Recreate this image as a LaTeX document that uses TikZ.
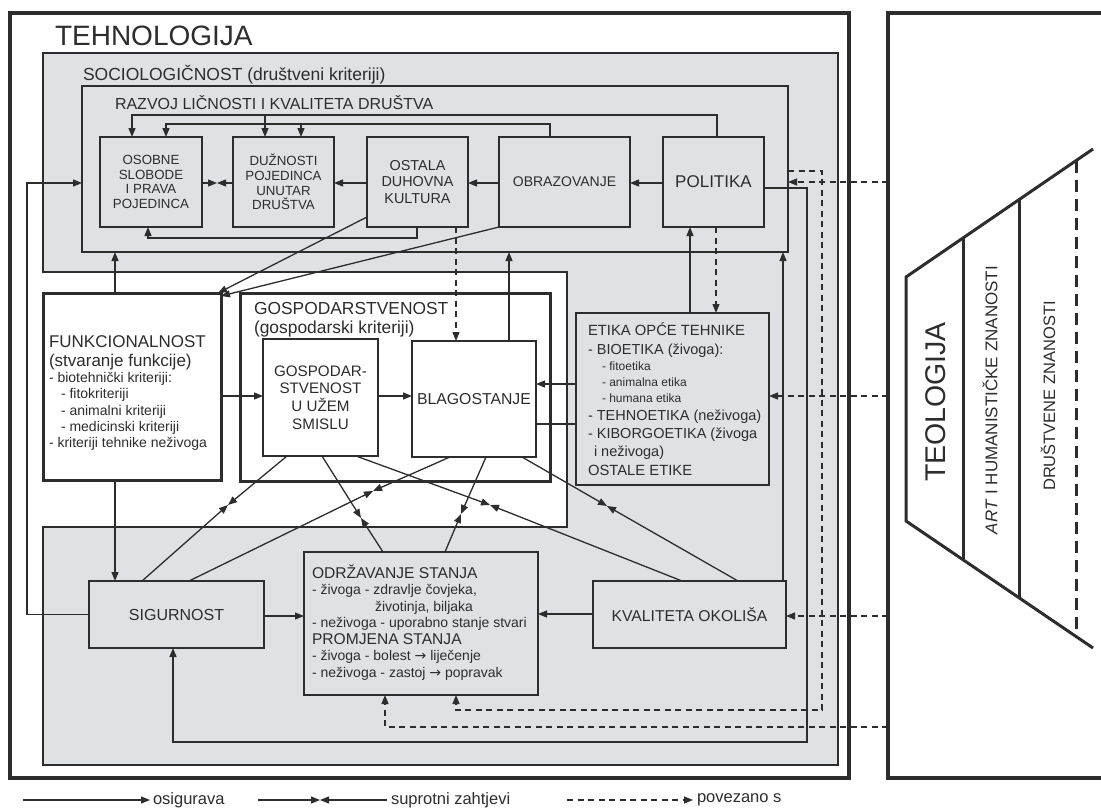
\documentclass[tikz,border=0pt]{standalone}
\usepackage{fontspec}
\setmainfont{Liberation Sans}
\newfontfamily\symf{DejaVu Sans}
\usetikzlibrary{arrows.meta}
\definecolor{bg}{RGB}{224,225,228}
\definecolor{ink}{RGB}{45,45,45}
\newcommand{\fsz}[2]{\fontsize{#1pt}{#2pt}\selectfont}
\newcommand{\bx}[7]{\node[#6, anchor=north west, minimum width={#4pt-#2pt}, minimum height={#5pt-#3pt}] (#1) at (#2,#3) {#7};}
\newcommand{\rar}{{\symf →}}
\begin{document}
\begin{tikzpicture}[x=1pt,y=-1pt,
  every node/.style={text=ink, inner sep=0pt, outer sep=0pt},
  box/.style={draw=ink, line width=1.6pt, fill=bg},
  wbox/.style={draw=ink, line width=1.6pt, fill=white},
  tbox/.style={draw=ink, line width=3pt, fill=white},
  con/.style={draw=ink, line width=1.3pt},
  arr/.style={con, -{Triangle[length=9pt,width=7pt]}},
  dsh/.style={con, dash pattern=on 6pt off 4.5pt},
  darr/.style={dsh, -{Triangle[length=9pt,width=7pt]}},
  txt/.style={anchor=base west},
]
\useasboundingbox (0,0) rectangle (1101,809);
\fill[white] (0,0) rectangle (1101,809);

% frames
\bx{tech}{10}{13}{849}{778}{draw=ink,line width=3.5pt}{}
\bx{right}{888}{13}{1125}{778}{draw=ink,line width=3.5pt}{}

% gray region
\filldraw[fill=bg,draw=ink,line width=2.8pt] (43,53) -- (838,53) -- (838,765) -- (43,765) -- (43,527) -- (567,527) -- (567,272) -- (43,272) -- cycle;

\node[txt,font=\fsz{28}{28}] (ttech) at (55,45) {TEHNOLOGIJA};
\node[txt,font=\fsz{17.5}{18}] (tsoc) at (83,80) {SOCIOLOGIČNOST (društveni kriteriji)};

% razvoj
\bx{raz}{82}{86}{788}{252}{draw=ink,line width=1.8pt}{}
\node[txt,font=\fsz{16}{16}] (traz) at (115,109) {RAZVOJ LIČNOSTI I KVALITETA DRUŠTVA};

\bx{osb}{100}{137}{202}{227}{box,align=center,font=\fsz{13.3}{14.7}}{OSOBNE\\SLOBODE\\I PRAVA\\POJEDINCA}
\bx{duz}{233}{137}{334}{227}{box,align=center,font=\fsz{13.3}{14.7}}{DUŽNOSTI\\POJEDINCA\\UNUTAR\\DRUŠTVA}
\bx{ost}{367}{137}{468}{227}{box,align=center,font=\fsz{14.4}{16.5}}{OSTALA\\DUHOVNA\\KULTURA}
\bx{obr}{499}{137}{630}{227}{box,font=\fsz{14}{14}}{OBRAZOVANJE}
\bx{pol}{663}{137}{764}{227}{box,font=\fsz{17}{17}}{POLITIKA}

% funkcionalnost
\bx{funk}{43}{293}{221}{480}{tbox}{}
\node[txt,font=\fsz{17}{17}] (f1) at (49,347) {FUNKCIONALNOST};
\node[txt,font=\fsz{17}{17}] (f2) at (49,366) {(stvaranje funkcije)};
\node[txt,font=\fsz{14}{14}] (f3) at (49,382) {- biotehnički kriteriji:};
\node[txt,font=\fsz{14}{14}] (f4) at (61,398) {- fitokriteriji};
\node[txt,font=\fsz{14}{14}] (f5) at (61,415) {- animalni kriteriji};
\node[txt,font=\fsz{14}{14}] (f6) at (61,431) {- medicinski kriteriji};
\node[txt,font=\fsz{14}{14}] (f7) at (49,447) {- kriteriji tehnike neživoga};

% gospodarstvenost
\bx{gosp}{240}{293}{550}{481}{tbox}{}
\node[txt,font=\fsz{17.4}{18}] (g1) at (254,314) {GOSPODARSTVENOST};
\node[txt,font=\fsz{17.4}{18}] (g2) at (254,333) {(gospodarski kriteriji)};
\bx{gospi}{263}{339}{378}{456}{wbox,align=center,font=\fsz{15.2}{17.7}}{GOSPODAR-\\STVENOST\\U UŽEM\\SMISLU}
\bx{blag}{412}{341}{536}{457}{wbox,font=\fsz{15.8}{16}}{BLAGOSTANJE}

% etika
\bx{eti}{576}{313}{769}{485}{box}{}
\node[txt,font=\fsz{14.8}{15}] (e1) at (588,335) {ETIKA OPĆE TEHNIKE};
\node[txt,font=\fsz{14.5}{15}] (e2) at (588,354) {- BIOETIKA (živoga):};
\node[txt,font=\fsz{12}{12}] (e3) at (602,370) {- fitoetika};
\node[txt,font=\fsz{12}{12}] (e4) at (602,386) {- animalna etika};
\node[txt,font=\fsz{12}{12}] (e5) at (602,402) {- humana etika};
\node[txt,font=\fsz{14.5}{15}] (e6) at (588,420) {- TEHNOETIKA (neživoga)};
\node[txt,font=\fsz{14.5}{15}] (e7) at (588,438) {- KIBORGOETIKA (živoga};
\node[txt,font=\fsz{14.5}{15}] (e8) at (594,456) {i neživoga)};
\node[txt,font=\fsz{14.8}{15}] (e9) at (588,475) {OSTALE ETIKE};

% lower boxes
\bx{sig}{89}{581}{264}{648}{box,font=\fsz{16}{16}}{SIGURNOST}
\bx{odr}{304}{552}{538}{695}{box}{}
\bx{kva}{593}{581}{786}{648}{box,font=\fsz{15.7}{16}}{KVALITETA OKOLIŠA}
\node[txt,font=\fsz{15.6}{16}] (o1) at (312,578) {ODRŽAVANJE STANJA};
\node[txt,font=\fsz{14}{14}] (o2) at (312,594) {- živoga - zdravlje čovjeka,};
\node[txt,font=\fsz{14}{14}] (o3) at (375,611) {životinja, biljaka};
\node[txt,font=\fsz{14}{14}] (o4) at (312,627) {- neživoga - uporabno stanje stvari};
\node[txt,font=\fsz{15.6}{16}] (o5) at (312,644) {PROMJENA STANJA};
\node[txt,font=\fsz{14}{14}] (o6) at (312,660) {- živoga - bolest \rar{} liječenje};
\node[txt,font=\fsz{14}{14}] (o7) at (312,677) {- neživoga - zastoj \rar{} popravak};

% right box
\draw[ink,line width=3pt,line join=miter] (1093,149) -- (906,277) -- (906,521) -- (1093,648);
\draw[ink,line width=3pt] (963,238) -- (963,560);
\draw[ink,line width=3pt] (1019,199.5) -- (1019,598);
\draw[ink,line width=3pt,dash pattern=on 12pt off 7pt] (1076,161) -- (1076,637);
\node[rotate=90,font=\fsz{28.5}{29}] (tteo) at (936,402) {TEOLOGIJA};
\node[rotate=90,font=\fsz{17}{17}] (tart) at (990,400) {\textit{ART} I HUMANISTIČKE ZNANOSTI};
\node[rotate=90,font=\fsz{16.5}{17}] (tdru) at (1048,396) {DRUŠTVENE ZNANOSTI};

% ---- connectors: top row
\draw[arr] (pol.west |- 0,183) -- (obr.east |- 0,183);
\draw[arr] (obr.west |- 0,183) -- (ost.east |- 0,183);
\draw[arr] (ost.west |- 0,183) -- (duz.east |- 0,183);
\coordinate (mA) at (217,183);
\draw[arr] (osb.east |- 0,183) -- (mA);
\draw[arr] (duz.west |- 0,183) -- (mA);
\coordinate (jA) at (301,124);
\coordinate (jB) at (265,115);
\draw[arr] (obr.north -| 550,0) |- (jA) -| (osb.north -| 166,0);
\draw[arr] (jA) -- (duz.north -| 301,0);
\draw[arr] (pol.north -| 717,0) |- (jB) -| (osb.north -| 132,0);
\draw[arr] (jB) -- (duz.north -| 265,0);
\draw[arr] (ost.south -| 417,0) |- (148,238) -- (osb.south -| 148,0);

% vertical links
\draw[arr] (sig.west) -| (27,183) -- (raz.west |- 0,183);
\draw[arr] (funk.north -| 115,0) -- (raz.south -| 115,0);
\draw[arr] (funk.south -| 115,0) -- (sig.north -| 115,0);
\draw[arr] (blag.north -| 509,0) -- (raz.south -| 509,0);
\draw[arr] (eti.north -| 690,0) -- (pol.south -| 690,0);
\draw[darr] (pol.south -| 716,0) -- (eti.north -| 716,0);
\draw[arr] (kva.north -| 783,0) -- (raz.south -| 783,0);
\draw[darr] (ost.south -| 456,0) -- (blag.north -| 456,0);
\draw[arr] (pol.east |- 0,188) -| (807,742) -| (sig.south -| 173,0);

% to funkcionalnost
\draw[arr] (ost.west |- 0,217) -- (funk.north -| 218,0);
\draw[arr] (obr.south west) -- (funk.east |- 0,296);

% horizontal in middle
\draw[arr] (funk.east |- 0,396) -- (gospi.west |- 0,396);
\draw[arr] (gospi.east |- 0,396) -- (blag.west |- 0,396);
\draw[arr] (eti.west |- 0,384) -- (blag.east |- 0,384);
\draw[con] (blag.east |- 0,424) -- (eti.west |- 0,424);
\draw[arr] (sig.east |- 0,616) -- (odr.west |- 0,616);
\draw[arr] (kva.west |- 0,614) -- (odr.east |- 0,614);

% opposing demands
\coordinate (x1) at (228,505);
\coordinate (x2) at (361,518);
\coordinate (x3) at (490,505);
\coordinate (x4) at (373,491);
\coordinate (x5) at (461,514);
\coordinate (x6) at (607,506);
\draw[arr] (gospi.south -| 287,0) -- (x1);
\draw[arr] (sig.north -| 142,0) -- (x1);
\draw[arr] (gospi.south -| 322,0) -- (x2);
\draw[arr] (odr.north -| 383,0) -- (x2);
\draw[arr] (gospi.south -| 356,0) -- (x3);
\draw[arr] (kva.north -| 682,0) -- (x3);
\draw[arr] (blag.south -| 450,0) -- (x4);
\draw[arr] (sig.north -| 189,0) -- (x4);
\draw[arr] (blag.south -| 486,0) -- (x5);
\draw[arr] (odr.north -| 445,0) -- (x5);
\draw[arr] (blag.south -| 522,0) -- (x6);
\draw[arr] (kva.north -| 738,0) -- (x6);

% dashed links
\draw[darr] (right.west |- 0,182) -- (raz.east |- 0,182);
\draw[darr] (right.west |- 0,396) -- (eti.east |- 0,396);
\draw[darr] (right.west |- 0,616) -- (kva.east |- 0,616);
\draw[darr] (right.west |- 0,727) -| (odr.south -| 385,0);
\draw[darr] (raz.east |- 0,171) -| (822,710) -| (odr.south -| 456,0);

% legend
\coordinate (l1a) at (23,800);
\node[anchor=west,inner sep=3pt,font=\fsz{16.5}{16}] (lt1) at (150,800) {osigurava};
\draw[arr] (l1a) -- (lt1.west);
\coordinate (l2a) at (258,800);
\coordinate (l2m) at (320,800);
\node[anchor=west,inner sep=4pt,font=\fsz{16.5}{16}] (lt2) at (387,800) {suprotni zahtjevi};
\draw[arr] (l2a) -- (l2m);
\draw[arr] (lt2.west) -- (l2m);
\coordinate (l3a) at (567,800);
\node[anchor=west,inner sep=4pt,font=\fsz{16.5}{16}] (lt3) at (693,800) {povezano s};
\draw[darr] (l3a) -- (lt3.west);
\end{tikzpicture}
\end{document}
